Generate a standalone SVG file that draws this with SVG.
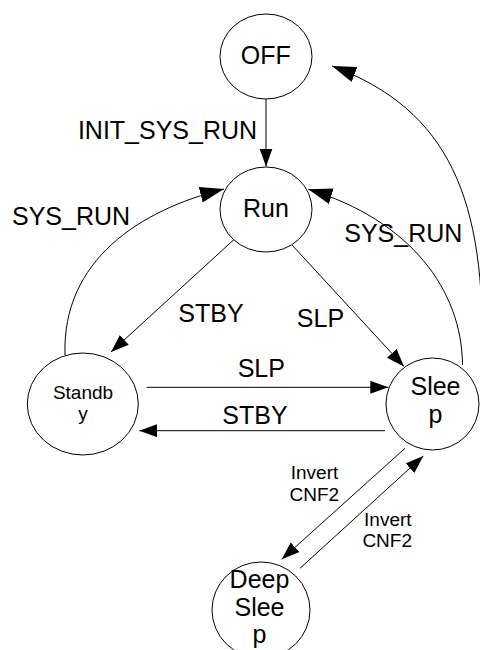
<svg xmlns="http://www.w3.org/2000/svg" width="480" height="650" viewBox="0 0 480 650">
  <style>
    .state { fill: #ffffff; stroke: #000000; stroke-width: 1; }
    .edge { fill: none; stroke: #000000; stroke-width: 1; }
    .big { font-family: "Liberation Sans", Arial, sans-serif; font-size: 25px; fill: #000000; text-anchor: middle; }
    .small { font-family: "Liberation Sans", Arial, sans-serif; font-size: 19px; fill: #000000; text-anchor: middle; }
  </style>
  <defs>
    <marker id="arrow" markerUnits="userSpaceOnUse" markerWidth="20" markerHeight="14" refX="18" refY="6.5" orient="auto">
      <path d="M0,0 L18,6.5 L0,13 z" fill="#000000"/>
    </marker>
    <marker id="arrowLarge" markerUnits="userSpaceOnUse" markerWidth="26" markerHeight="18" refX="24" refY="8" orient="auto">
      <path d="M0,0 L24,8 L0,16 z" fill="#000000"/>
    </marker>
  </defs>
  <rect width="480" height="650" fill="#ffffff"/>

  <!-- transitions -->
  <g id="connectors">
    <line class="edge" x1="266" y1="99" x2="266" y2="166.5" marker-end="url(#arrow)"/>
    <line class="edge" x1="234" y1="239.5" x2="111" y2="352" marker-end="url(#arrow)"/>
    <line class="edge" x1="292" y1="245" x2="404" y2="366.5" marker-end="url(#arrow)"/>
    <line class="edge" x1="146.7" y1="387.3" x2="388.3" y2="387.3" marker-end="url(#arrow)"/>
    <line class="edge" x1="385" y1="430.7" x2="139.3" y2="430.7" marker-end="url(#arrow)"/>
    <path class="edge" d="M65,355 C62,260 140,210 224,189" marker-end="url(#arrowLarge)"/>
    <path class="edge" d="M462.5,365 C462,290 410,220 308.3,189.3" marker-end="url(#arrowLarge)"/>
    <path class="edge" d="M482,360 C486,200 450,110 332,66" marker-end="url(#arrowLarge)"/>
    <line class="edge" x1="405" y1="448.3" x2="281.7" y2="559.3" marker-end="url(#arrow)"/>
    <line class="edge" x1="300" y1="568.3" x2="423.3" y2="456" marker-end="url(#arrow)"/>
  </g>

  <!-- transition labels -->
  <g id="labels">
    <text class="big" x="167.5" y="139.3">INIT_SYS_RUN</text>
    <text class="big" x="71" y="225">SYS_RUN</text>
    <text class="big" x="403.3" y="241.7">SYS_RUN</text>
    <text class="big" x="211" y="322.3">STBY</text>
    <text class="big" x="320.5" y="326.7">SLP</text>
    <text class="big" x="261.3" y="377.3">SLP</text>
    <text class="big" x="255" y="424">STBY</text>
    <text class="small" x="314.5" y="479">Invert</text>
    <text class="small" x="314.3" y="500.7">CNF2</text>
    <text class="small" x="387.8" y="526">Invert</text>
    <text class="small" x="387.2" y="547.3">CNF2</text>
  </g>

  <!-- states -->
  <g id="off">
    <ellipse class="state" cx="266" cy="56.5" rx="46" ry="42.5"/>
    <text class="big" x="265.7" y="64">OFF</text>
  </g>
  <g id="run">
    <ellipse class="state" cx="266" cy="209.5" rx="46" ry="42.5"/>
    <text class="big" x="266" y="216.7">Run</text>
  </g>
  <g id="standby">
    <ellipse class="state" cx="82.8" cy="404" rx="55.5" ry="51"/>
    <text class="small" x="83" y="399.3">Standb</text>
    <text class="small" x="83" y="420">y</text>
  </g>
  <g id="sleep">
    <ellipse class="state" cx="432.5" cy="404" rx="46.5" ry="46"/>
    <text class="big" x="435.5" y="395">Slee</text>
    <text class="big" x="435.5" y="423">p</text>
  </g>
  <g id="deep-sleep">
    <ellipse class="state" cx="261" cy="610" rx="49" ry="48"/>
    <text class="big" x="259.5" y="588.3">Deep</text>
    <text class="big" x="259.5" y="615.8">Slee</text>
    <text class="big" x="259.5" y="643.3">p</text>
  </g>
</svg>
